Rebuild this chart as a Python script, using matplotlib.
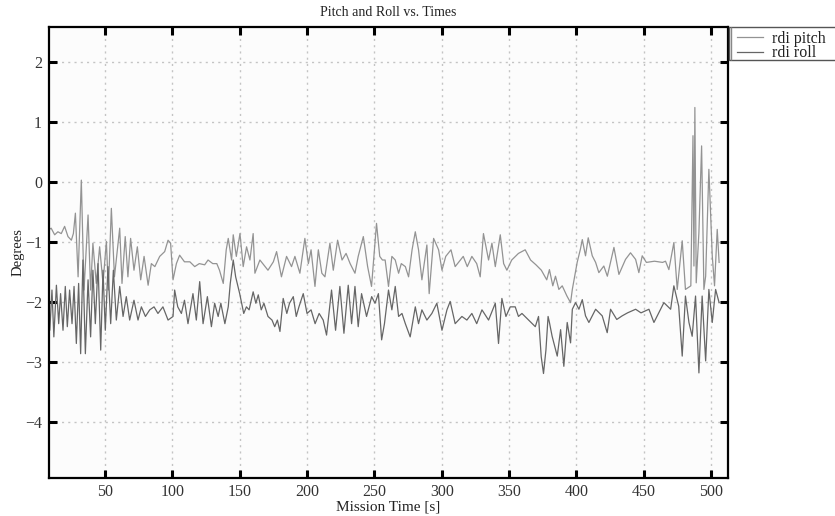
import matplotlib
matplotlib.use("Agg")
import matplotlib.pyplot as plt
from matplotlib.patches import Rectangle

# time [s] and angle [deg]
pitch_time = [
    8, 10, 12.6, 15, 17.5, 20, 22.5, 25, 26.5, 28,
    30, 32.4, 34.4, 37.4, 39.3, 41, 43.5, 46, 48.5, 51,
    52.5, 54.7, 57, 60.9, 62.6, 65, 67, 69, 71.5, 74,
    76.5, 79, 82, 84.4, 87, 90.6, 94.3, 96.8, 98.7, 100.5,
    103, 105.4, 109, 113, 116.6, 120, 124, 126.5, 130,
    133, 135, 137.8, 140, 141.5, 144, 145.2, 147.5, 150.2, 152.6,
    155.1, 157.6, 160, 161.3, 165, 171, 175, 177.4, 181, 184.8,
    188.5, 191, 194.7, 198.4, 201, 203, 205.9, 208.4, 211, 213.3,
    217, 219.5, 222.7, 226, 229, 232, 235.6, 238, 241.8, 245,
    247.9, 251.6, 254, 256,
    258, 260.5, 263, 265.5, 268, 270, 273, 275.4, 278, 280.4,
    282.8, 285.3, 289, 290.7, 294, 297.7, 300.2, 303, 306.9, 310,
    316, 319, 322.4, 326, 328.6, 331, 334.8, 337.3, 339.8, 343.5,
    346, 348.4, 352, 357, 362, 366, 370, 374, 378,
    380, 382.5, 384.5, 387, 389.5, 393, 395.7, 397, 400.6, 403,
    404.4, 406.8, 408.8, 411.8, 414.3, 416.7, 420.4, 423, 427.9, 431.6,
    436.5, 440.2, 444, 446.4, 448.9, 452, 458, 464, 466.2, 468.7,
    472.4, 474.9, 478.6, 481, 485, 486.6, 487.3, 488, 489, 491,
    493, 494.7, 496, 498.4, 500.9, 502.6, 504.6, 506,
]
pitch_deg = [
    -0.80, -0.77, -0.88, -0.83, -0.86, -0.74, -0.91, -0.97, -0.86, -0.52,
    -1.58, 0.03, -1.80, -0.55, -1.80, -1.02, -1.69, -1.08, -1.69, -0.99,
    -1.80, -0.44, -1.58, -0.77, -1.69, -0.91, -1.58, -0.94, -1.47, -1.08,
    -1.63, -1.24, -1.72, -1.36, -1.41, -1.24, -1.16, -0.97, -1.02, -1.63,
    -1.36, -1.22, -1.33, -1.33, -1.41, -1.36, -1.38, -1.30, -1.36,
    -1.36, -1.47, -1.69, -1.13, -0.94, -1.30, -0.88, -1.24, -0.86, -1.41,
    -1.08, -1.30, -0.86, -1.52, -1.30, -1.47, -1.33, -1.16, -1.58, -1.24,
    -1.41, -1.24, -1.52, -0.94, -1.36, -1.13, -1.74, -1.13, -1.52, -1.58,
    -1.02, -1.47, -0.97, -1.30, -1.19, -1.36, -1.52, -1.24, -0.91, -1.41,
    -1.74, -0.69, -1.24, -1.30,
    -1.30, -1.74, -1.24, -1.30, -1.52, -1.36, -1.41, -1.58, -1.13, -0.83,
    -1.13, -1.63, -1.05, -1.86, -0.94, -1.13, -1.47, -1.24, -1.13, -1.41,
    -1.24, -1.41, -1.24, -1.36, -1.58, -0.86, -1.30, -1.02, -1.41, -0.88,
    -1.36, -1.47, -1.30, -1.19, -1.13, -1.30, -1.38, -1.47, -1.63,
    -1.46, -1.73, -1.57, -1.79, -1.73, -1.90, -2.01, -1.79, -1.34, -1.12,
    -0.96, -1.23, -0.93, -1.23, -1.34, -1.51, -1.40, -1.57, -1.09, -1.54,
    -1.29, -1.18, -1.29, -1.51, -1.23, -1.34, -1.32, -1.34, -1.32, -1.46,
    -1.01, -1.79, -0.98, -1.79, -1.73, 0.77, -1.40, 1.24, -1.68, -0.84,
    0.60, -1.79, -1.57, 0.21, -1.23, -1.73, -0.79, -1.34,
]

roll_time = [
    8, 9, 10.6, 12, 13.9, 15.6, 17, 18.8, 20.5, 22,
    23.7, 25.5, 27, 28.7, 30.4, 31.9, 33.6, 35.4, 37.4, 39.3,
    41, 42.8, 44.8, 46.8, 48.5, 50.2, 52.2, 54.2, 56.2, 58.4,
    60.9, 63.4, 65.8, 68.3, 71.5, 74.5, 77, 80, 83.2, 86.4,
    89.3, 93, 96.8, 100.5, 101.7, 104, 106.7, 109, 111.6, 115.3,
    117.8, 120.3, 122.8, 126, 129, 131.4,
    134, 136, 139, 141.5, 143, 145.2, 147, 150, 153, 155,
    157, 160, 162, 163.8, 166, 168, 171, 174, 176, 178,
    179.9, 182.3, 185, 187, 189.8, 192, 194, 197.2, 200, 203,
    206, 209, 212, 214.5, 218.2, 221.2, 224.4, 227.4, 230.6, 233.1,
    235.6, 238, 240.5, 244.2, 248, 250.5, 253, 255.4,
    257.5, 260.5, 263, 265.5, 268, 270.5, 273, 276.6, 280.4, 282.8,
    285.3, 289, 292.7, 296.4, 300.2, 303.9, 306.3, 310, 315, 318.7,
    322.4, 326, 329.9, 334.8, 339.8, 342.2, 344.7, 347.7, 350.9, 354.6,
    357, 359.6, 364.5, 369.5, 371.9, 373.9, 375.6, 377.4, 379,
    380, 382, 384.5, 385.8, 388.3, 390.7, 393.2, 395.7, 397, 399.4,
    401.9, 404.4, 406.8, 409.3, 414.3, 419.2, 422.9, 425.4, 430, 434,
    438, 444, 448, 453.9, 457.6, 465, 470, 472.4, 476, 478.6,
    481, 483.6, 486, 488.5, 491, 493.4, 496, 498.4, 500.9, 503.4,
    506,
]
roll_deg = [
    -1.91, -2.47, -1.80, -2.58, -1.72, -2.36, -1.86, -2.47, -1.74, -2.41,
    -1.80, -2.36, -1.74, -2.69, -1.69, -2.86, -1.30, -2.86, -1.63, -2.58,
    -1.47, -2.36, -1.36, -2.80, -1.47, -2.47, -1.41, -2.36, -1.47, -2.30,
    -1.74, -2.24, -1.91, -2.30, -1.97, -2.30, -2.08, -2.24, -2.13, -2.08,
    -2.19, -2.08, -2.30, -2.24, -1.80, -2.08, -2.19, -1.97, -2.36, -1.86,
    -2.30, -1.66, -2.36, -1.91, -2.41, -2.02,
    -2.24, -2.02, -2.36, -2.08, -1.69, -1.30, -1.58, -1.86, -2.19, -2.08,
    -2.13, -1.83, -2.02, -1.88, -2.13, -2.02, -2.24, -2.30, -2.41, -2.30,
    -2.49, -1.94, -2.19, -2.02, -1.91, -2.24, -2.08, -1.86, -2.19, -2.13,
    -2.36, -2.19, -2.30, -2.55, -1.80, -2.47, -1.74, -2.52, -1.72, -2.36,
    -1.74, -2.41, -1.86, -2.24, -1.91, -2.02, -1.86, -2.63,
    -2.36, -1.80, -2.13, -1.74, -2.24, -2.19, -2.36, -2.58, -2.08, -2.36,
    -2.13, -2.30, -2.19, -2.02, -2.47, -2.13, -1.99, -2.36, -2.24, -2.30,
    -2.19, -2.36, -2.13, -2.30, -2.02, -2.69, -1.94, -2.24, -2.08, -2.08,
    -2.24, -2.19, -2.30, -2.41, -2.24, -2.91, -3.19, -2.80, -2.24,
    -2.34, -2.57, -2.79, -2.90, -2.46, -3.07, -2.34, -2.68, -2.12, -2.01,
    -2.12, -1.96, -2.23, -2.34, -2.12, -2.23, -2.51, -2.12, -2.29, -2.23,
    -2.18, -2.12, -2.18, -2.12, -2.34, -2.01, -2.12, -1.73, -2.07, -2.90,
    -1.90, -2.34, -2.57, -1.90, -3.18, -1.90, -2.98, -1.79, -2.34, -1.79,
    -2.01,
]

x_ticks = [50, 100, 150, 200, 250, 300, 350, 400, 450, 500]
y_ticks = [-4, -3, -2, -1, 0, 1, 2]


def main() -> None:
    plt.rcParams["font.family"] = ["Liberation Serif", "DejaVu Serif"]
    plt.rcParams["axes.unicode_minus"] = True

    fig = plt.figure(figsize=(8.35, 5.16), dpi=100)
    ax = fig.add_axes([49 / 835, 1 - 478 / 516, (728 - 49) / 835, (478 - 27) / 516])
    ax.set_facecolor("#fcfcfc")

    ax.plot(pitch_time, pitch_deg, color="#939393", lw=0.9, label="rdi pitch")
    ax.plot(roll_time, roll_deg, color="#666666", lw=0.9, label="rdi roll")

    ax.set_xlim(8.4, 512.6)
    ax.set_ylim(-4.93, 2.58)
    ax.set_xticks(x_ticks)
    ax.set_yticks(y_ticks)

    ax.grid(True, color="#c4c4c4", linestyle=(0, (1.5, 3)), linewidth=1.0)
    ax.set_axisbelow(True)
    for sp in ax.spines.values():
        sp.set_linewidth(1.6)
        sp.set_color("black")
    ax.tick_params(direction="in", length=6, width=2.2, top=True, right=True,
                   labelsize=11.5, colors="black", labelcolor="#333333")
    ax.tick_params(axis="x", pad=4)
    ax.tick_params(axis="y", pad=5)

    ax.set_title("Pitch and Roll vs. Times", fontsize=10, pad=8, color="#222222")
    ax.set_xlabel("Mission Time [s]", fontsize=11, labelpad=1, color="#222222")
    ax.set_ylabel("Degrees", fontsize=10.5, labelpad=0, color="#222222")

    leg = fig.legend(loc="upper left", bbox_to_anchor=(737 / 835, 1 - 31 / 516),
                     frameon=False, fontsize=11.5, handlelength=1.6,
                     handletextpad=0.6, labelspacing=-0.1, borderaxespad=0,
                     borderpad=0)
    for t in leg.get_texts():
        t.set_color("#222222")

    # legend frame running off the right edge of the figure
    fig.patches.append(Rectangle((729 / 835, 1 - 60 / 516), 0.2, 33 / 516,
                                 transform=fig.transFigure, fill=False,
                                 edgecolor="#555555", lw=1.0))
    fig.patches.append(Rectangle((731 / 835, 1 - 60 / 516), 0.0, 33 / 516,
                                 transform=fig.transFigure, fill=False,
                                 edgecolor="#888888", lw=1.0))

    fig.savefig("out.png", dpi=100)


if __name__ == "__main__":
    main()
